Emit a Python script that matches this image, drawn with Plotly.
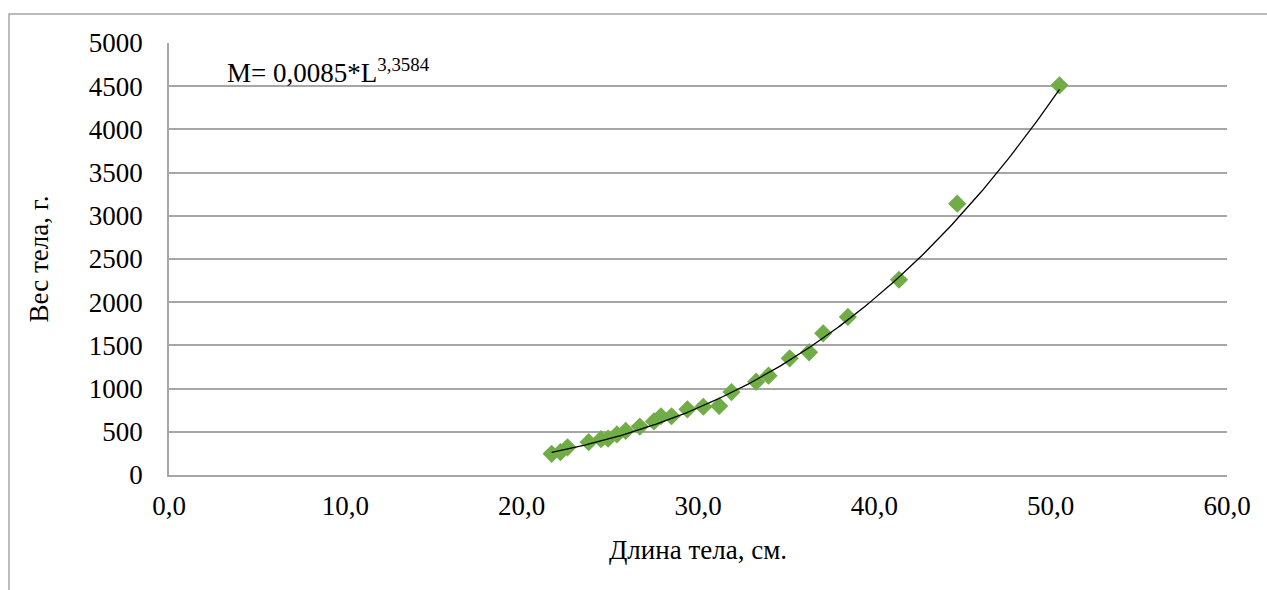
import numpy as np
import plotly.graph_objects as go

# Data
length_cm = [21.7, 22.2, 22.6, 23.8, 24.5, 24.9, 25.4, 25.9, 26.7, 27.5, 27.9, 28.5,
             29.4, 30.3, 31.2, 31.9, 33.3, 34.0, 35.2, 36.3, 37.1, 38.5, 41.4, 44.7, 50.5]
weight_g = [245, 265, 320, 380, 415, 420, 470, 510, 560, 620, 680, 680,
            760, 790, 800, 960, 1080, 1150, 1350, 1420, 1640, 1830, 2260, 3140, 4510]

# Power trendline coefficients (M = a * L^b)
coef_a = 0.0085
coef_b = 3.3584

x_ticks = [0, 10, 20, 30, 40, 50, 60]
x_tick_labels = ["0,0", "10,0", "20,0", "30,0", "40,0", "50,0", "60,0"]
y_ticks = [0, 500, 1000, 1500, 2000, 2500, 3000, 3500, 4000, 4500, 5000]

trend_x = np.linspace(min(length_cm), max(length_cm), 200)
trend_y = coef_a * trend_x ** coef_b

FONT = "Liberation Serif"
FS = 27
GRID = "#A6A6A6"

fig = go.Figure()
fig.add_trace(go.Scatter(
    x=length_cm, y=weight_g, mode="markers",
    marker=dict(symbol="diamond", size=14, color="#70AD47", line=dict(width=0)),
    showlegend=False, hoverinfo="x+y"))
fig.add_trace(go.Scatter(
    x=trend_x, y=trend_y, mode="lines",
    line=dict(color="black", width=1.3), showlegend=False, hoverinfo="skip"))

fig.update_layout(
    width=1267, height=590,
    margin=dict(l=169, r=40, t=43, b=115),
    paper_bgcolor="white", plot_bgcolor="white",
    font=dict(family=FONT, size=FS, color="black"),
    xaxis=dict(range=[0, 60], tickvals=x_ticks, ticktext=x_tick_labels,
               showgrid=False, zeroline=False, showline=True, linecolor=GRID, linewidth=1.5,
               ticks="outside", ticklen=6, tickcolor="rgba(0,0,0,0)",
               tickfont=dict(family=FONT, size=FS, color="black"),
               title=dict(text="Длина тела, см.", font=dict(family=FONT, size=FS, color="black"), standoff=20)),
    yaxis=dict(range=[0, 5000], tickvals=y_ticks,
               showgrid=True, gridcolor=GRID, gridwidth=1.5, zeroline=False,
               showline=True, linecolor=GRID, linewidth=1.5,
               ticks="outside", ticklen=19, tickcolor="rgba(0,0,0,0)",
               tickfont=dict(family=FONT, size=FS, color="black"),
               title=dict(text="Вес тела, г.", font=dict(family=FONT, size=FS, color="black"), standoff=32)),
    annotations=[dict(
        text="M= 0,0085*L<sup>3,3584</sup>", xref="paper", yref="paper",
        x=0.053, y=0.935, xanchor="left", yanchor="middle", showarrow=False,
        font=dict(family=FONT, size=FS, color="black"))],
    shapes=[dict(type="rect", xref="paper", yref="paper",
                 x0=(9 - 169) / 1058, x1=(1275 - 169) / 1058,
                 y0=-(600 - 475) / 432, y1=1 + (43 - 14) / 432,
                 line=dict(color="#A6A6A6", width=1.5), layer="below")],
)

fig.write_html("out.html")
